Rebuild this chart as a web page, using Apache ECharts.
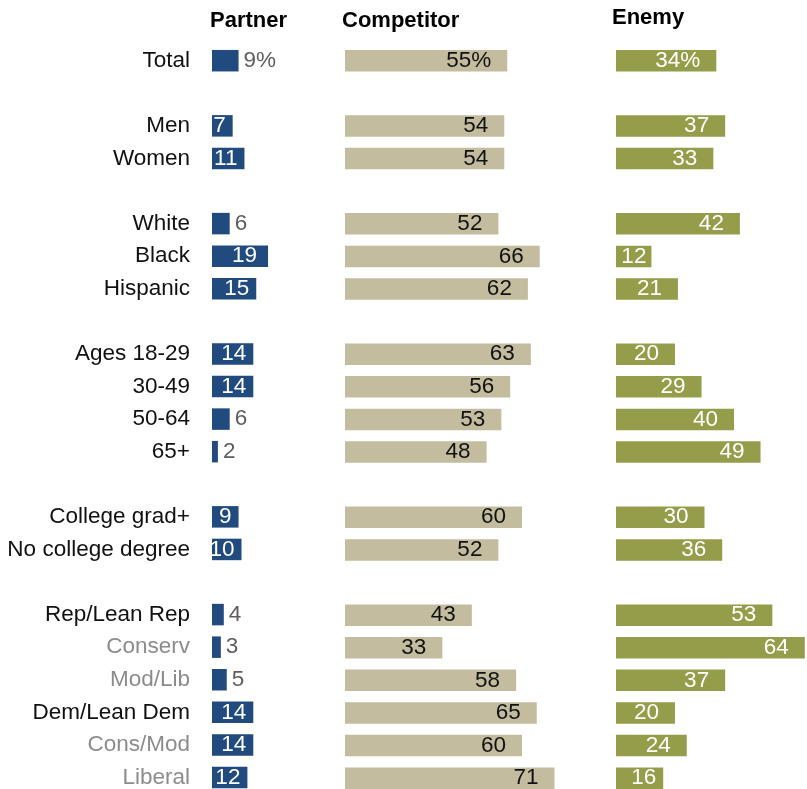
<!DOCTYPE html>
<html>
<head>
<meta charset="utf-8">
<script src="https://cdn.jsdelivr.net/npm/echarts@6/dist/echarts.min.js"></script>
<style>
  html, body { margin: 0; padding: 0; background: #fff; }
  #chart { width: 807px; height: 789px; }
</style>
</head>
<body>
<div id="chart"></div>
<script>
// Row labels; empty entries are spacer rows between groups
const categories = ['Total', '', 'Men', 'Women', '', 'White', 'Black', 'Hispanic', '',
  'Ages 18-29', '30-49', '50-64', '65+', '', 'College grad+', 'No college degree', '',
  'Rep/Lean Rep', 'Conserv', 'Mod/Lib', 'Dem/Lean Dem', 'Cons/Mod', 'Liberal'];

const partner =    [9, null, 7, 11, null, 6, 19, 15, null, 14, 14, 6, 2, null, 9, 10, null, 4, 3, 5, 14, 14, 12];
const competitor = [55, null, 54, 54, null, 52, 66, 62, null, 63, 56, 53, 48, null, 60, 52, null, 43, 33, 58, 65, 60, 71];
const enemy =      [34, null, 37, 33, null, 42, 12, 21, null, 20, 29, 40, 49, null, 30, 36, null, 53, 64, 37, 20, 24, 16];

const columnTitles = ['Partner', 'Competitor', 'Enemy'];

// Sub-groups shown in a lighter grey
const mutedRows = ['Conserv', 'Mod/Lib', 'Cons/Mod', 'Liberal'];

const FONT = "'Liberation Sans', Arial, sans-serif";
const BLUE = '#214a7e';
const BEIGE = '#c3bc9f';
const OLIVE = '#959d4a';

// Shared horizontal scale: pixels per percentage point in every column
const PX_PER_PT = 2.95;
// Rows are centred on the category ticks (first row to last row)
const firstRowY = 60.7;
const lastRowY = 778.2;

const columns = [
  { left: 212, width: 295 },
  { left: 345, width: 295 },
  { left: 616, width: 190 }
];

function fmt(v, i) {
  return i === 0 ? v + '%' : String(v);
}

// Partner: narrow bars carry their number just outside the bar
function partnerData() {
  return partner.map((v, i) => {
    if (v == null) return '-';
    const outside = v < 7 || i === 0;
    return {
      value: v,
      label: outside
        ? { position: 'right', distance: 5, color: '#5e5e5e' }
        : { position: 'insideRight', distance: v >= 19 ? 11 : 7, color: '#fff' }
    };
  });
}

const enemyShortLabel = { 'Black': 5, 'Liberal': 7 };

function enemyData() {
  return enemy.map((v, i) => {
    if (v == null) return '-';
    const d = enemyShortLabel[categories[i]];
    return d != null ? { value: v, label: { distance: d } } : v;
  });
}

const labelBase = {
  show: true,
  fontFamily: FONT,
  fontSize: 22.5,
  formatter: p => fmt(p.value, p.dataIndex)
};

const chart = echarts.init(document.getElementById('chart'), null, { renderer: 'canvas' });

const grids = columns.map(c => ({
  left: c.left, top: firstRowY, width: c.width, height: lastRowY - firstRowY
}));

const xAxes = columns.map((c, k) => ({
  type: 'value', gridIndex: k, min: 0, max: c.width / PX_PER_PT, show: false
}));

const yAxes = columns.map((c, k) => ({
  type: 'category',
  gridIndex: k,
  data: categories,
  inverse: true,
  boundaryGap: false,
  axisLine: { show: false },
  axisTick: { show: false },
  splitLine: { show: false },
  axisLabel: {
    show: k === 0,
    interval: 0,
    margin: 22,
    fontFamily: FONT,
    fontSize: 22.5,
    color: (val) => mutedRows.includes(val) ? '#8c8c8c' : '#111'
  }
}));

chart.setOption({
  animation: false,
  backgroundColor: '#fff',
  title: [
    { text: columnTitles[0], left: 210, top: 10 },
    { text: columnTitles[1], left: 342, top: 10 },
    { text: columnTitles[2], left: 612, top: 7 }
  ].map(t => Object.assign(t, {
    padding: 0,
    textStyle: { fontFamily: FONT, fontSize: 22, fontWeight: 'bold', color: '#000' }
  })),
  grid: grids,
  xAxis: xAxes,
  yAxis: yAxes,
  series: [
    {
      type: 'bar', xAxisIndex: 0, yAxisIndex: 0, barWidth: 21.5,
      itemStyle: { color: BLUE },
      label: labelBase,
      data: partnerData()
    },
    {
      type: 'bar', xAxisIndex: 1, yAxisIndex: 1, barWidth: 21.5,
      itemStyle: { color: BEIGE },
      label: Object.assign({}, labelBase, { position: 'insideRight', distance: 16, color: '#111' }),
      data: competitor.map(v => v == null ? '-' : v)
    },
    {
      type: 'bar', xAxisIndex: 2, yAxisIndex: 2, barWidth: 21.5,
      itemStyle: { color: OLIVE },
      label: Object.assign({}, labelBase, { position: 'insideRight', distance: 16, color: '#fff' }),
      data: enemyData()
    }
  ]
});
</script>
</body>
</html>
